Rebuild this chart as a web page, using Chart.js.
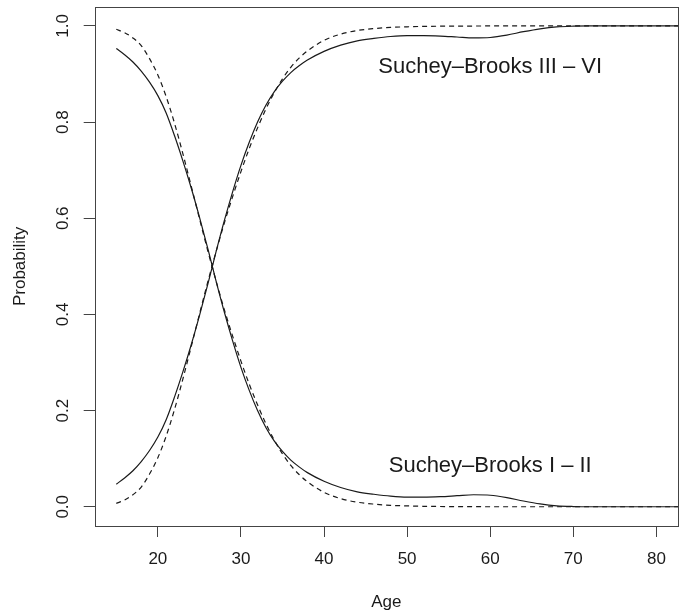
<!DOCTYPE html>
<html>
<head>
<meta charset="utf-8">
<script src="https://cdn.jsdelivr.net/npm/chart.js@4.4.1/dist/chart.umd.min.js"></script>
<style>
  html, body { margin: 0; padding: 0; background: #fff; }
  #wrap { width: 686px; height: 614px; }
</style>
</head>
<body>
<div id="wrap"><canvas id="probChart" width="686" height="614"></canvas></div>
<script>
// Age grid shared by all four curves
const ages = [15, 16, 17, 18, 19, 20, 21, 22, 23, 24, 25, 26, 27, 28, 29, 30, 31, 32, 33, 34, 35, 36, 37, 38,
              40, 42, 44, 46, 48, 50, 52, 54, 56, 58,
              60, 62, 64, 66, 68, 70, 72, 75, 78, 82.6];

// Smoothed estimate (solid)
const solidLow = [0.953, 0.940, 0.925, 0.906, 0.883, 0.855, 0.819, 0.772, 0.720, 0.664, 0.603, 0.538, 0.470, 0.405,
                  0.345, 0.290, 0.242, 0.200, 0.165, 0.137, 0.115, 0.097, 0.083, 0.071,
                  0.053, 0.040, 0.031, 0.026, 0.022, 0.020, 0.020, 0.021, 0.023, 0.025,
                  0.024, 0.019, 0.012, 0.006, 0.002, 0.0005, 0, 0, 0, 0];
const solidHigh = [0.047, 0.060, 0.075, 0.094, 0.117, 0.145, 0.181, 0.228, 0.280, 0.336, 0.397, 0.462, 0.530, 0.595,
                   0.655, 0.710, 0.758, 0.800, 0.835, 0.863, 0.885, 0.903, 0.917, 0.929,
                   0.947, 0.960, 0.969, 0.974, 0.978, 0.980, 0.980, 0.979, 0.977, 0.975,
                   0.976, 0.981, 0.988, 0.994, 0.998, 0.9995, 1, 1, 1, 1];

// Logistic fit (dashed)
const dashLow = [0.993, 0.986, 0.975, 0.959, 0.932, 0.898, 0.853, 0.798, 0.735, 0.668, 0.600, 0.533, 0.470, 0.410,
                 0.355, 0.303, 0.255, 0.212, 0.173, 0.139, 0.110, 0.086, 0.067, 0.052,
                 0.030, 0.017, 0.0095, 0.0055, 0.003, 0.0018, 0.001, 0.0006, 0.0003, 0.0002,
                 0, 0, 0, 0, 0, 0, 0, 0, 0, 0];
const dashHigh = [0.007, 0.014, 0.025, 0.041, 0.068, 0.102, 0.147, 0.202, 0.265, 0.332, 0.400, 0.467, 0.530, 0.590,
                  0.645, 0.697, 0.745, 0.788, 0.827, 0.861, 0.890, 0.914, 0.933, 0.948,
                  0.970, 0.983, 0.9905, 0.9945, 0.997, 0.9982, 0.999, 0.9994, 0.9997, 0.9998,
                  1, 1, 1, 1, 1, 1, 1, 1, 1, 1];

const xTicks = [20, 30, 40, 50, 60, 70, 80];
const yTicks = [0.0, 0.2, 0.4, 0.6, 0.8, 1.0];

// curve labels: text, age, probability
const curveLabels = [
  { text: "Suchey\u2013Brooks III \u2013 VI", x: 60, y: 0.915 },
  { text: "Suchey\u2013Brooks I \u2013 II", x: 60, y: 0.085 }
];

const FONT = "'Liberation Sans', Arial, Helvetica, sans-serif";
const INK = "#1a1a1a";

function toPoints(vals) {
  return ages.map((a, i) => ({ x: a, y: vals[i] }));
}

function curve(vals, dashed) {
  return {
    data: toPoints(vals),
    borderColor: INK,
    borderWidth: 1.2,
    borderDash: dashed ? [5, 4] : [],
    pointRadius: 0,
    fill: false,
    cubicInterpolationMode: "monotone"
  };
}

// box around the plot, rotated y tick labels and curve labels
const decorations = {
  id: "decorations",
  afterDraw(chart) {
    const ctx = chart.ctx;
    const area = chart.chartArea;
    const xs = chart.scales.x;
    const ys = chart.scales.y;
    ctx.save();
    ctx.strokeStyle = "#444";
    ctx.lineWidth = 1;
    ctx.strokeRect(Math.round(area.left) + 0.5, Math.round(area.top) + 0.5,
                   Math.round(area.right - area.left), Math.round(area.bottom - area.top));

    ctx.fillStyle = INK;
    ctx.font = "17px " + FONT;
    ctx.textAlign = "center";
    ctx.textBaseline = "middle";
    yTicks.forEach(v => {
      const py = ys.getPixelForValue(v);
      ctx.save();
      ctx.translate(63, py);
      ctx.rotate(-Math.PI / 2);
      ctx.fillText(v.toFixed(1), 0, 0);
      ctx.restore();
    });

    ctx.font = "22px " + FONT;
    curveLabels.forEach(l => {
      ctx.fillText(l.text, xs.getPixelForValue(l.x), ys.getPixelForValue(l.y));
    });
    ctx.restore();
  }
};

new Chart(document.getElementById("probChart"), {
  type: "line",
  data: {
    datasets: [
      curve(solidLow, false),
      curve(solidHigh, false),
      curve(dashLow, true),
      curve(dashHigh, true)
    ]
  },
  options: {
    responsive: false,
    animation: false,
    layout: { padding: { top: 6.7, right: 8, left: 0, bottom: 0 } },
    plugins: { legend: { display: false }, tooltip: { enabled: false } },
    scales: {
      x: {
        type: "linear",
        min: 12.4,
        max: 82.6,
        afterBuildTicks: s => { s.ticks = xTicks.map(v => ({ value: v })); },
        afterFit: s => { s.height = 88; },
        grid: { drawOnChartArea: false, drawTicks: true, tickLength: 11, tickColor: "#444", tickWidth: 1 },
        border: { display: false },
        ticks: { color: INK, font: { size: 17, family: FONT }, padding: 12, maxRotation: 0 },
        title: { display: true, text: "Age", color: INK, font: { size: 17, family: FONT }, padding: { bottom: 1 } }
      },
      y: {
        type: "linear",
        min: -0.04,
        max: 1.04,
        afterBuildTicks: s => { s.ticks = yTicks.map(v => ({ value: v })); },
        afterFit: s => { s.width = 94.7; },
        grid: { drawOnChartArea: false, drawTicks: true, tickLength: 11, tickColor: "#444", tickWidth: 1 },
        border: { display: false },
        ticks: { display: false },
        title: { display: true, text: "Probability", color: INK, font: { size: 17, family: FONT }, padding: { top: 10 } }
      }
    }
  },
  plugins: [decorations]
});
</script>
</body>
</html>
